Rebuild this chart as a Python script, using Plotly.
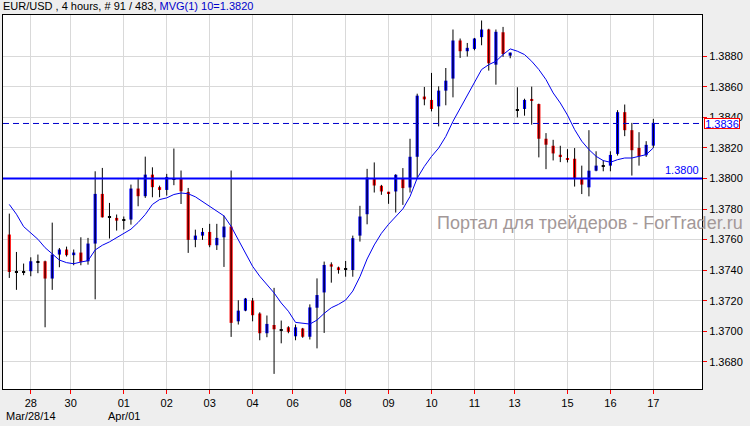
import plotly.graph_objects as go

# ---------------- data ----------------
opens = [1.37633, 1.37389, 1.37388, 1.37393, 1.37455, 1.37458, 1.37345, 1.37502, 1.37535, 1.37498,
         1.37515, 1.37458, 1.37574, 1.37899, 1.37747, 1.37742, 1.37729, 1.37731, 1.37934, 1.37884,
         1.38025, 1.37943, 1.37925, 1.38000, 1.37998, 1.37912, 1.37598, 1.37626, 1.37650, 1.37563,
         1.37615, 1.37685, 1.37065, 1.37135, 1.37201, 1.37116, 1.36987, 1.37041, 1.37011, 1.37026,
         1.36967, 1.37018, 1.36964, 1.37154, 1.37254, 1.37438, 1.37418, 1.37405, 1.37401, 1.37626,
         1.37766, 1.38002, 1.37952, 1.37913, 1.37915, 1.38002, 1.37941, 1.38142, 1.38536, 1.38514,
         1.38472, 1.38575, 1.38654, 1.38903, 1.38833, 1.38848, 1.38925, 1.38975, 1.38745, 1.38957,
         1.38804, 1.38448, 1.38455, 1.38520, 1.38487, 1.38260, 1.38214, 1.38155, 1.38129, 1.38129,
         1.37997, 1.37942, 1.38051, 1.38084, 1.38084, 1.38161, 1.38434, 1.38316, 1.38200, 1.38152,
         1.38215]
highs = [1.37770, 1.37519, 1.37443, 1.37484, 1.37502, 1.37462, 1.37711, 1.37545, 1.37554, 1.37535,
         1.37615, 1.37611, 1.38047, 1.38069, 1.37840, 1.37764, 1.37751, 1.37960, 1.38004, 1.38143,
         1.38073, 1.37953, 1.38030, 1.38196, 1.38052, 1.37938, 1.37665, 1.37676, 1.37703, 1.37703,
         1.37757, 1.38052, 1.37203, 1.37218, 1.37218, 1.37124, 1.37103, 1.37284, 1.37070, 1.37033,
         1.37044, 1.37022, 1.37176, 1.37346, 1.37456, 1.37451, 1.37423, 1.37460, 1.37626, 1.37821,
         1.38063, 1.38105, 1.37958, 1.37913, 1.38028, 1.38068, 1.38260, 1.38555, 1.38599, 1.38691,
         1.38603, 1.38723, 1.38975, 1.38916, 1.38887, 1.38920, 1.39034, 1.38980, 1.38975, 1.38992,
         1.38824, 1.38597, 1.38522, 1.38601, 1.38490, 1.38297, 1.38253, 1.38214, 1.38192, 1.38199,
         1.38084, 1.38316, 1.38178, 1.38119, 1.38178, 1.38447, 1.38484, 1.38364, 1.38303, 1.38244,
         1.38390]
lows = [1.37349, 1.37271, 1.37367, 1.37360, 1.37380, 1.37026, 1.37271, 1.37419, 1.37489, 1.37432,
        1.37432, 1.37436, 1.37209, 1.37744, 1.37607, 1.37659, 1.37666, 1.37698, 1.37818, 1.37873,
        1.37877, 1.37877, 1.37888, 1.37956, 1.37833, 1.37513, 1.37550, 1.37598, 1.37550, 1.37532,
        1.37421, 1.36963, 1.37044, 1.37131, 1.37065, 1.36941, 1.36961, 1.36721, 1.36921, 1.36987,
        1.36941, 1.36957, 1.36946, 1.36888, 1.36989, 1.37318, 1.37377, 1.37357, 1.37357, 1.37587,
        1.37700, 1.37908, 1.37893, 1.37834, 1.37777, 1.37827, 1.37908, 1.38002, 1.38479, 1.38439,
        1.38341, 1.38479, 1.38531, 1.38789, 1.38798, 1.38839, 1.38872, 1.38706, 1.38614, 1.38796,
        1.38787, 1.38400, 1.38411, 1.38352, 1.38138, 1.38061, 1.38118, 1.38107, 1.38105, 1.37947,
        1.37898, 1.37883, 1.38047, 1.38047, 1.38047, 1.38150, 1.38277, 1.38019, 1.38084, 1.38141,
        1.38200]
closes = [1.37388, 1.37389, 1.37388, 1.37458, 1.37455, 1.37345, 1.37502, 1.37535, 1.37498, 1.37515,
          1.37454, 1.37574, 1.37899, 1.37746, 1.37747, 1.37724, 1.37729, 1.37934, 1.37884, 1.38025,
          1.37943, 1.37925, 1.38010, 1.38000, 1.37916, 1.37598, 1.37626, 1.37650, 1.37563, 1.37611,
          1.37685, 1.37055, 1.37135, 1.37214, 1.37105, 1.36987, 1.37048, 1.37013, 1.37011, 1.36996,
          1.37026, 1.36964, 1.37156, 1.37237, 1.37434, 1.37423, 1.37401, 1.37405, 1.37609, 1.37751,
          1.38006, 1.37954, 1.37915, 1.37902, 1.38024, 1.37937, 1.38142, 1.38542, 1.38518, 1.38455,
          1.38575, 1.38640, 1.38903, 1.38833, 1.38855, 1.38916, 1.38975, 1.38754, 1.38960, 1.38815,
          1.38824, 1.38448, 1.38514, 1.38514, 1.38260, 1.38221, 1.38164, 1.38144, 1.38125, 1.37996,
          1.37960, 1.38051, 1.38084, 1.38084, 1.38154, 1.38434, 1.38316, 1.38185, 1.38145, 1.38220,
          1.38364]
ma10 = [1.37830, 1.37766, 1.37685, 1.37642, 1.37602, 1.37547, 1.37504, 1.37466, 1.37449, 1.37442,
        1.37453, 1.37462, 1.37532, 1.37563, 1.37585, 1.37611, 1.37642, 1.37668, 1.37712, 1.37764,
        1.37830, 1.37862, 1.37873, 1.37895, 1.37905, 1.37900, 1.37880, 1.37850, 1.37818, 1.37786,
        1.37755, 1.37686, 1.37598, 1.37510, 1.37425, 1.37360, 1.37305, 1.37251, 1.37185, 1.37131,
        1.37058, 1.37051, 1.37047, 1.37073, 1.37117, 1.37154, 1.37176, 1.37204, 1.37263, 1.37357,
        1.37473, 1.37565, 1.37641, 1.37700, 1.37751, 1.37801, 1.37882, 1.38002, 1.38079, 1.38144,
        1.38199, 1.38275, 1.38374, 1.38461, 1.38549, 1.38636, 1.38713, 1.38745, 1.38767, 1.38811,
        1.38848, 1.38833, 1.38811, 1.38767, 1.38713, 1.38647, 1.38560, 1.38494, 1.38415, 1.38320,
        1.38244, 1.38189, 1.38145, 1.38117, 1.38106, 1.38123, 1.38134, 1.38134, 1.38145, 1.38156,
        1.38200]

day_labels = ["28", "30", "01", "02", "03", "04", "06", "08", "09", "10", "11", "13", "15", "16", "17"]
day_pos = [3, 8.58, 16, 22, 28, 34, 39.6, 47, 53, 59, 65, 70.6, 78, 84, 90]
month_labels = ["Mar/28/14", "Apr/01"]
month_pos = [3, 16]
price_ticks = [1.3680, 1.3700, 1.3720, 1.3740, 1.3760, 1.3780, 1.3800,
               1.3820, 1.3840, 1.3860, 1.3880]
level_line = 1.3800
last_price = 1.3836
header = "EUR/USD , 4 hours, # 91 / 483, "
ma_label = "MVG(1) 10=1.3820"
watermark = "Портал для трейдеров - ForTrader.ru"

# ---------------- styling ----------------
FONT = "Liberation Sans, Arial, sans-serif"
UP, DOWN, FLAT = "#0000FF", "#FF0000", "#000000"
MIN_BODY = 0.00007

idx = list(range(len(opens)))

wx, wy = [], []
for i, h, l in zip(idx, highs, lows):
    wx += [i, i, None]
    wy += [l, h, None]

bases, sizes, colors = [], [], []
for o, c in zip(opens, closes):
    lo, hi = min(o, c), max(o, c)
    if hi - lo < MIN_BODY:
        mid = (hi + lo) / 2
        lo, hi = mid - MIN_BODY / 2, mid + MIN_BODY / 2
    bases.append(lo)
    sizes.append(hi - lo)
    colors.append(UP if c > o else (DOWN if c < o else FLAT))

fig = go.Figure()
fig.add_trace(go.Scatter(x=wx, y=wy, mode="lines",
                         line=dict(color="#000000", width=1), hoverinfo="skip"))
fig.add_trace(go.Bar(x=idx, y=sizes, base=bases, width=0.44,
                     marker=dict(color=colors, line=dict(width=0))))
fig.add_trace(go.Scatter(x=idx, y=ma10, mode="lines",
                         line=dict(color="#0000EE", width=1)))

fig.add_shape(type="line", xref="paper", x0=0, x1=1, yref="y", y0=level_line, y1=level_line,
              line=dict(color="#0000FF", width=2))
fig.add_shape(type="line", xref="paper", x0=0, x1=1, yref="y", y0=last_price, y1=last_price,
              line=dict(color="#0000CC", width=1, dash="6px,4px"))

ann = []
ann.append(dict(xref="paper", yref="paper", x=0, y=1, xanchor="left", yanchor="bottom",
                xshift=-2, yshift=1, showarrow=False,
                text=header + '<span style="color:#0000CC">' + ma_label + "</span>",
                font=dict(family=FONT, size=11, color="#000000")))
ann.append(dict(xref="paper", yref="y", x=1, y=level_line, xanchor="right", yanchor="bottom",
                xshift=-1, yshift=0, showarrow=False, text=f"{level_line:.4f}",
                font=dict(family=FONT, size=11, color="#0000FF")))
ann.append(dict(xref="paper", yref="y", x=1, y=last_price, xanchor="left", yanchor="middle",
                xshift=2, showarrow=False, text=f"{last_price:.4f}",
                width=34, height=9, borderpad=0, borderwidth=1, bordercolor="#FF0000",
                bgcolor="#FFFFFF", font=dict(family=FONT, size=11, color="#0000FF")))
ann.append(dict(xref="paper", yref="paper", x=(435 - 3) / 699, y=(389 - 223) / 374,
                xanchor="left", yanchor="middle", showarrow=False, text=watermark,
                font=dict(family=FONT, size=18, color="#A39898")))
for lab, pos in zip(month_labels, month_pos):
    ann.append(dict(xref="x", yref="paper", x=pos, y=0, xanchor="center", yanchor="top",
                    yshift=-19, showarrow=False, text=lab,
                    font=dict(family=FONT, size=11, color="#000000")))

fig.update_layout(
    width=750, height=426,
    margin=dict(l=3, r=48, t=15, b=37, autoexpand=False),
    paper_bgcolor="#EEEEEE", plot_bgcolor="#FFFFFF",
    showlegend=False, barmode="overlay",
    annotations=ann,
    font=dict(family=FONT, size=11, color="#000000"),
)
fig.update_xaxes(range=[-0.88, 96.8], tickmode="array", tickvals=day_pos, ticktext=day_labels,
                 automargin=False,
                 ticks="outside", ticklen=4, tickcolor="#FF0000", tickwidth=1,
                 showgrid=True, gridcolor="#D9D9D9", gridwidth=1, zeroline=False,
                 showline=True, linecolor="#000000", linewidth=1, mirror=True,
                 tickfont=dict(family=FONT, size=11, color="#000000"))
fig.update_yaxes(side="right", range=[1.36622, 1.39070], tickmode="array", tickvals=price_ticks,
                 tickformat=".4f", automargin=False,
                 ticks="outside", ticklen=4, tickcolor="#FF0000", tickwidth=1,
                 showgrid=True, gridcolor="#D9D9D9", gridwidth=1, zeroline=False,
                 showline=True, linecolor="#000000", linewidth=1, mirror=True,
                 tickfont=dict(family=FONT, size=11, color="#000000"))

fig.write_html("out.html", config={"displayModeBar": False},
               post_script="document.body.style.margin='0';document.body.style.background='#EEEEEE';")
